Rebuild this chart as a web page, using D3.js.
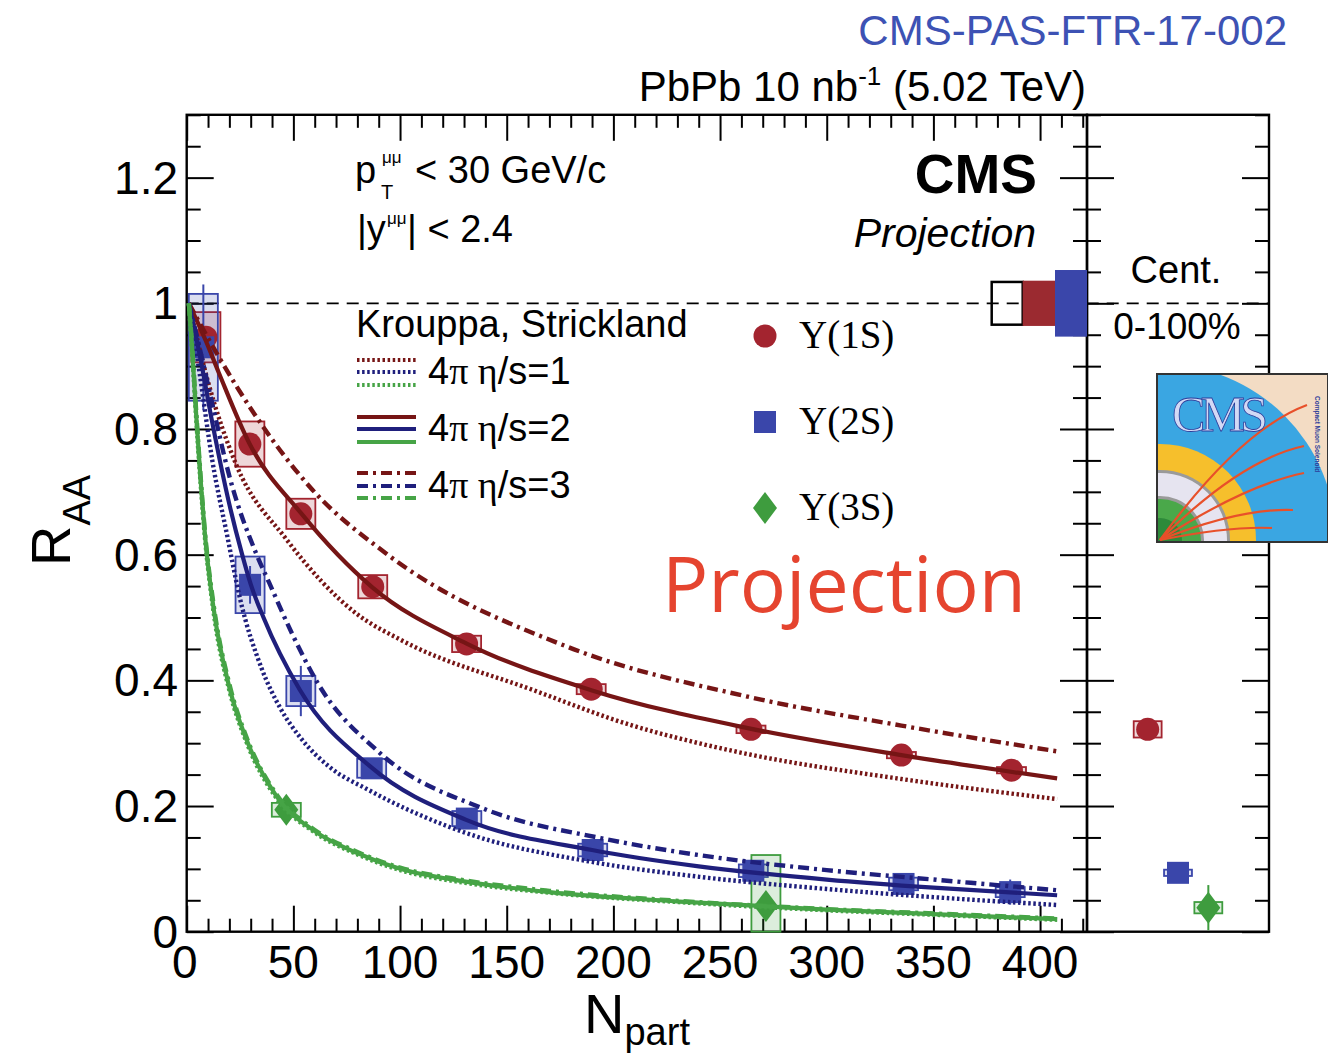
<!DOCTYPE html>
<html><head><meta charset="utf-8">
<script src="https://cdn.jsdelivr.net/npm/d3@7"></script>
<style>body{margin:0;background:#fff}svg{display:block}</style>
</head><body><svg id="c" width="1328" height="1053"></svg>
<script>
// ---------------- DATA ----------------
const npartMajorTicks = [0,50,100,150,200,250,300,350,400];
const npartTickLabels = ["0","50","100","150","200","250","300","350","400"];
const raaMajorTicks = [0,0.2,0.4,0.6,0.8,1,1.2];
const raaTickLabels = ["0","0.2","0.4","0.6","0.8","1","1.2"];

// Upsilon(1S) centrality-dependent points
const ups1S_npart = [9,29.6,53.5,87.2,131.2,189.6,264.5,335,386.6];
const ups1S_raa   = [0.946,0.776,0.665,0.549,0.458,0.386,0.322,0.281,0.257];
const ups1S_stat  = [0.01,0.01,0.008,0.006,0.005,0.004,0.004,0.004,0.004];
const ups1S_syst  = [0.04,0.036,0.024,0.0185,0.013,0.008,0.006,0.005,0.005];
// Upsilon(2S)
const ups2S_npart = [7.8,29.7,53.5,86.7,131.3,190.3,265.6,336,386];
const ups2S_raa   = [0.93,0.552,0.383,0.26,0.18,0.13,0.097,0.076,0.063];
const ups2S_stat  = [0.1,0.03,0.04,0.01,0.008,0.008,0.01,0.015,0.02];
const ups2S_syst  = [0.085,0.045,0.024,0.015,0.012,0.01,0.01,0.01,0.008];
// Upsilon(3S)
const ups3S_npart = [46.7,271.5];
const ups3S_raa   = [0.194,0.041];
const ups3S_stat  = [0.012,0.02];
const ups3S_syst  = [0.011,0.081];

// Integrated (0-100%) points, right panel
const intStates = ["1S","2S","3S"];
const intPos    = [2,3,4];
const intRaa    = [0.322,0.0937,0.0382];
const intStat   = [0.005,0.006,0.036];
const intSyst   = [0.013,0.005,0.009];

// Global uncertainties at RAA = 1
const globalLabels = ["lumi","1S","2S"];
const globalUnc    = [0.034,0.036,0.053];

// Krouppa-Strickland model curves [Npart, RAA]
const th1S_eta1 = [[1,1],[10,0.875],[23,0.745],[46.6,0.625],[80,0.505],[100,0.465],[162,0.385],[209,0.328],[240,0.3],[264,0.282],[335,0.243],[408,0.211]];
const th1S_eta2 = [[1,1],[9,0.94],[15,0.89],[29.4,0.777],[53.6,0.666],[87,0.548],[131,0.459],[190,0.384],[263,0.324],[335,0.281],[408,0.244]];
const th1S_eta3 = [[1,1],[15,0.915],[32.5,0.82],[59,0.703],[93,0.603],[178,0.454],[263,0.374],[335,0.328],[408,0.287]];
const th2S_eta1 = [[1,1],[6,0.89],[12,0.75],[19,0.63],[25,0.53],[35,0.42],[44,0.355],[53,0.31],[67,0.262],[85,0.226],[131,0.157],[190,0.111],[240,0.0875],[300,0.068],[350,0.055],[408,0.0425]];
const th2S_eta2 = [[1,1],[6,0.92],[12,0.81],[20,0.68],[26,0.6],[30,0.553],[36,0.5],[53,0.385],[86,0.263],[131,0.178],[190,0.13],[240,0.104],[300,0.083],[350,0.07],[408,0.058]];
const th2S_eta3 = [[1,1],[6,0.93],[12,0.84],[20,0.725],[32.8,0.6],[38.7,0.555],[50,0.47],[61,0.398],[90,0.286],[139,0.196],[194,0.149],[240,0.122],[300,0.098],[350,0.083],[408,0.066]];
const th3S_eta1 = [[1,1],[2.5,0.925],[4.5,0.814],[6.5,0.714],[8.6,0.625],[12.5,0.511],[20.3,0.38],[28.1,0.301],[42.2,0.212],[60,0.158],[80,0.123],[100,0.098],[130,0.078],[170,0.062],[231,0.047],[300,0.034],[350,0.027],[408,0.019]];
const th3S_eta2 = [[1,1],[2.5,0.93],[4.5,0.82],[6.5,0.72],[8.6,0.63],[12.5,0.517],[20.3,0.385],[28.1,0.305],[42.2,0.215],[60,0.16],[80,0.125],[100,0.1],[130,0.08],[170,0.063],[231,0.048],[300,0.035],[350,0.028],[408,0.02]];
const th3S_eta3 = [[1,1],[2.5,0.935],[4.5,0.826],[6.5,0.726],[8.6,0.635],[12.5,0.523],[20.3,0.39],[28.1,0.309],[42.2,0.218],[60,0.162],[80,0.127],[100,0.102],[130,0.082],[170,0.065],[231,0.049],[300,0.036],[350,0.029],[408,0.021]];

const legendStates = ["\u03A5(1S)","\u03A5(2S)","\u03A5(3S)"];
const legendEta = ["1","2","3"];

// ---------------- STYLE / LAYOUT ----------------
const svg = d3.select("#c");
const L=186.7, R=1087, T=114.8, B=931.7, R2=1269;
const x = d3.scaleLinear().domain([0,422]).range([L,R]);
const y = d3.scaleLinear().domain([0,1.3]).range([B,T]);
const xc = d3.scaleLinear().domain([0,6]).range([R,R2]);

const lineCol = {s1:"#761515", s2:"#1f1f7c", s3:"#46a446"};
const mkCol = {s1:"#a3242f", s2:"#3a46aa", s3:"#3e9c3e"};
const dashFor = {1:"2.5,2.6", 2:null, 3:"11,5,3,5"};
const SANS = "'Liberation Sans', Arial, Helvetica, sans-serif";
const SERIF = "'Liberation Serif', 'Times New Roman', serif";

svg.append("rect").attr("width",1328).attr("height",1053).attr("fill","#fff");

// ---- dashed line at RAA=1
svg.append("line").attr("x1",L).attr("x2",R2).attr("y1",y(1)).attr("y2",y(1))
  .attr("stroke","#000").attr("stroke-width",1.8).attr("stroke-dasharray","12,8");

// ---- axes ticks
function clean(g){ g.select(".domain").remove(); g.selectAll("line").attr("stroke","#000").attr("stroke-width",2); }
const minorX = d3.range(0,421,10).filter(v=>v%50!==0);
const minorY = d3.range(0,27).filter(i=>i%4!==0).map(i=>i*0.05);
svg.append("g").attr("transform",`translate(0,${B})`).call(d3.axisBottom(x).tickValues(npartMajorTicks).tickSizeInner(-26).tickSizeOuter(0).tickFormat("")).call(clean);
svg.append("g").attr("transform",`translate(0,${B})`).call(d3.axisBottom(x).tickValues(minorX).tickSizeInner(-13).tickSizeOuter(0).tickFormat("")).call(clean);
svg.append("g").attr("transform",`translate(0,${T})`).call(d3.axisTop(x).tickValues(npartMajorTicks).tickSizeInner(-26).tickSizeOuter(0).tickFormat("")).call(clean);
svg.append("g").attr("transform",`translate(0,${T})`).call(d3.axisTop(x).tickValues(minorX).tickSizeInner(-13).tickSizeOuter(0).tickFormat("")).call(clean);
svg.append("g").attr("transform",`translate(${L},0)`).call(d3.axisLeft(y).tickValues(raaMajorTicks).tickSizeInner(-27).tickSizeOuter(0).tickFormat("")).call(clean);
svg.append("g").attr("transform",`translate(${L},0)`).call(d3.axisLeft(y).tickValues(minorY).tickSizeInner(-14).tickSizeOuter(0).tickFormat("")).call(clean);
svg.append("g").attr("transform",`translate(${R},0)`).call(d3.axisRight(y).tickValues(raaMajorTicks).tickSizeInner(-27).tickSizeOuter(0).tickFormat("")).call(clean);
svg.append("g").attr("transform",`translate(${R},0)`).call(d3.axisRight(y).tickValues(minorY).tickSizeInner(-14).tickSizeOuter(0).tickFormat("")).call(clean);
svg.append("g").attr("transform",`translate(${R},0)`).call(d3.axisRight(y).tickValues(raaMajorTicks).tickSizeInner(27).tickSizeOuter(0).tickFormat("")).call(clean);
svg.append("g").attr("transform",`translate(${R},0)`).call(d3.axisRight(y).tickValues(minorY).tickSizeInner(14).tickSizeOuter(0).tickFormat("")).call(clean);
svg.append("g").attr("transform",`translate(${R2},0)`).call(d3.axisRight(y).tickValues(raaMajorTicks).tickSizeInner(-27).tickSizeOuter(0).tickFormat("")).call(clean);
svg.append("g").attr("transform",`translate(${R2},0)`).call(d3.axisRight(y).tickValues(minorY).tickSizeInner(-14).tickSizeOuter(0).tickFormat("")).call(clean);

svg.append("rect").attr("x",L).attr("y",T).attr("width",R-L).attr("height",B-T).attr("fill","none").attr("stroke","#000").attr("stroke-width",2.4);
svg.append("rect").attr("x",R).attr("y",T).attr("width",R2-R).attr("height",B-T).attr("fill","none").attr("stroke","#000").attr("stroke-width",2.4);

// tick labels
svg.append("g").selectAll("text").data(npartMajorTicks).join("text")
  .attr("x",(d,i)=> x(d) - (i===0?2:0)).attr("y",978).attr("text-anchor","middle")
  .attr("font-family",SANS).attr("font-size",46).text((d,i)=>npartTickLabels[i]);
svg.append("g").selectAll("text").data(raaMajorTicks).join("text")
  .attr("x",178).attr("y",d=>y(d)+16).attr("text-anchor","end")
  .attr("font-family",SANS).attr("font-size",46).text((d,i)=>raaTickLabels[i]);

// axis titles
const xt = svg.append("text").attr("x",584).attr("y",1033).attr("font-family",SANS).attr("font-size",56);
xt.append("tspan").text("N");
xt.append("tspan").attr("font-size",38).attr("dy",12).text("part");
const yt = svg.append("text").attr("transform","translate(70,566) rotate(-90)").attr("font-family",SANS).attr("font-size",56);
yt.append("tspan").text("R");
yt.append("tspan").attr("font-size",38).attr("dy",20).text("AA");

// ---- global uncertainty boxes at 1
const gX = [991.7,1022.7,1055,1087];
const gFill = ["none","#9b2a30","#3a46aa"];
const gStroke = ["#000","#9b2a30","#3a46aa"];
globalUnc.forEach((u,i)=>{
  svg.append("rect").attr("x",gX[i]).attr("width",gX[i+1]-gX[i])
    .attr("y",y(1+u)).attr("height",y(1-u)-y(1+u))
    .attr("fill",gFill[i]).attr("stroke",gStroke[i]).attr("stroke-width",i===0?2.5:0);
});

// ---- systematic boxes
function boxes(xs, ys, ss, col, xscale, halfw){
  const g = svg.append("g");
  xs.forEach((n,i)=>{
    const top = y(ys[i]+ss[i]), bot = y(Math.max(ys[i]-ss[i],0));
    g.append("rect").attr("x",xscale(n-halfw)).attr("width",xscale(n+halfw)-xscale(n-halfw))
      .attr("y",top).attr("height",bot-top)
      .attr("fill",col).attr("fill-opacity",0.18).attr("stroke",col).attr("stroke-width",1.8);
  });
}
boxes(ups1S_npart, ups1S_raa, ups1S_syst, mkCol.s1, x, 6.8);
boxes(ups2S_npart, ups2S_raa, ups2S_syst, mkCol.s2, x, 6.8);
boxes(ups3S_npart, ups3S_raa, ups3S_syst, mkCol.s3, x, 6.8);
[mkCol.s1,mkCol.s2,mkCol.s3].forEach((c,i)=>boxes([intPos[i]],[intRaa[i]],[intSyst[i]],c,xc,0.46));

// ---- markers
function errbars(xs, ys, es, col, xscale){
  const g = svg.append("g");
  xs.forEach((n,i)=>{
    g.append("line").attr("x1",xscale(n)).attr("x2",xscale(n)).attr("y1",y(ys[i]+es[i])).attr("y2",y(Math.max(ys[i]-es[i],0)))
      .attr("stroke",col).attr("stroke-width",2);
  });
}
function marker(g, kind, cx, cy, col){
  if(kind===0) g.append("circle").attr("cx",cx).attr("cy",cy).attr("r",11.5).attr("fill",col);
  else if(kind===1) g.append("rect").attr("x",cx-11).attr("y",cy-11).attr("width",22).attr("height",22).attr("fill",col);
  else g.append("path").attr("d",`M${cx},${cy-16}L${cx+12},${cy}L${cx},${cy+16}L${cx-12},${cy}Z`).attr("fill",col);
}
errbars(ups1S_npart, ups1S_raa, ups1S_stat, mkCol.s1, x);
errbars(ups2S_npart, ups2S_raa, ups2S_stat, mkCol.s2, x);
errbars(ups3S_npart, ups3S_raa, ups3S_stat, mkCol.s3, x);
[mkCol.s1,mkCol.s2,mkCol.s3].forEach((c,i)=>errbars([intPos[i]],[intRaa[i]],[intStat[i]],c,xc));
const mg = svg.append("g");
ups1S_npart.forEach((n,i)=>marker(mg,0,x(n),y(ups1S_raa[i]),mkCol.s1));
ups2S_npart.forEach((n,i)=>marker(mg,1,x(n),y(ups2S_raa[i]),mkCol.s2));
ups3S_npart.forEach((n,i)=>marker(mg,2,x(n),y(ups3S_raa[i]),mkCol.s3));
intPos.forEach((p,i)=>marker(mg,i,xc(p),y(intRaa[i]),[mkCol.s1,mkCol.s2,mkCol.s3][i]));

// ---- model curves
const line = d3.line().x(d=>x(d[0])).y(d=>y(d[1])).curve(d3.curveMonotoneX);
const curves = [
  [th1S_eta1,"s1",1],[th1S_eta3,"s1",3],[th1S_eta2,"s1",2],
  [th2S_eta1,"s2",1],[th2S_eta3,"s2",3],[th2S_eta2,"s2",2],
  [th3S_eta1,"s3",1],[th3S_eta3,"s3",3],[th3S_eta2,"s3",2]
];
curves.forEach(([d,s,e])=>{
  svg.append("path").attr("d",line(d)).attr("fill","none").attr("stroke",lineCol[s])
    .attr("stroke-width",e===2?4.2:4.4).attr("stroke-dasharray",dashFor[e]);
});

// ---- texts
svg.append("text").attr("x",1287).attr("y",45).attr("text-anchor","end").attr("font-family",SANS)
  .attr("font-size",42).attr("fill","#3d52b4").text("CMS-PAS-FTR-17-002");
const tt = svg.append("text").attr("x",1086).attr("y",101).attr("text-anchor","end").attr("font-family",SANS).attr("font-size",42);
tt.append("tspan").text("PbPb 10 nb");
tt.append("tspan").attr("font-size",26).attr("dy",-16).text("-1");
tt.append("tspan").attr("dy",16).text(" (5.02 TeV)");

svg.append("text").attr("x",1037).attr("y",193).attr("text-anchor","end").attr("font-family",SANS).attr("font-weight","bold").attr("font-size",55).text("CMS");
svg.append("text").attr("x",1036).attr("y",247).attr("text-anchor","end").attr("font-family",SANS).attr("font-style","italic").attr("font-size",41).text("Projection");

// kinematic cuts
function txt(xp,yp,s,size,fam){ return svg.append("text").attr("x",xp).attr("y",yp).attr("font-family",fam||SANS).attr("font-size",size).text(s); }
txt(355,183,"p",38); txt(382,163,"\u03BC\u03BC",17); txt(381,199,"T",20); txt(415,183,"< 30 GeV/c",38);
txt(357,242,"|y",38); txt(387,224,"\u03BC\u03BC",17); txt(407,242,"| < 2.4",38);

// model legend
txt(356,337,"Krouppa, Strickland",38);
const legRowsY = [[360,372,385],[417,429,442],[473,486,498]];
legRowsY.forEach((row,ri)=>{
  const e = ri+1;
  ["s1","s2","s3"].forEach((s,k)=>{
    svg.append("line").attr("x1",357).attr("x2",416).attr("y1",row[k]).attr("y2",row[k])
      .attr("stroke",lineCol[s]).attr("stroke-width",4).attr("stroke-dasharray",dashFor[e]);
  });
  const t = svg.append("text").attr("x",428).attr("y",row[1]+12).attr("font-family",SANS).attr("font-size",38);
  t.append("tspan").text("4");
  t.append("tspan").attr("font-family",SERIF).text("\u03C0 \u03B7");
  t.append("tspan").text("/s=" + legendEta[ri]);
});

// state legend
const legMY = [336,422,508];
legendStates.forEach((s,i)=>{
  marker(svg,i,765,legMY[i],[mkCol.s1,mkCol.s2,mkCol.s3][i]);
  svg.append("text").attr("x",799).attr("y",legMY[i]+12).attr("font-family",SERIF).attr("font-size",39).text(s);
});

// Big projection
svg.append("text").attr("x",662).attr("y",612).attr("font-family","'Open Sans', 'Noto Sans', sans-serif")
  .attr("font-size",77).attr("fill","#e5442f").text("Projection");

// right panel texts
svg.append("text").attr("x",1176).attr("y",283).attr("text-anchor","middle").attr("font-family",SANS).attr("font-size",38).text("Cent.");
svg.append("text").attr("x",1177).attr("y",339).attr("text-anchor","middle").attr("font-family",SANS).attr("font-size",37).text("0-100%");

// ---- CMS logo
(function(){
  const lx=1157, ly=374, lw=171, lh=168;
  const g = svg.append("g");
  g.append("clipPath").attr("id","lc").append("rect").attr("x",lx).attr("y",ly).attr("width",lw).attr("height",lh);
  const c = g.append("g").attr("clip-path","url(#lc)");
  const ox=lx+3, oy=ly+lh-2;
  c.append("rect").attr("x",lx).attr("y",ly).attr("width",lw).attr("height",lh).attr("fill","#f3dcc4");
  c.append("circle").attr("cx",ox).attr("cy",oy).attr("r",176).attr("fill","#3aa6e2");
  c.append("circle").attr("cx",ox).attr("cy",oy).attr("r",96).attr("fill","#f6bf2c");
  c.append("circle").attr("cx",ox).attr("cy",oy).attr("r",70).attr("fill","#9a9a9a");
  c.append("circle").attr("cx",ox).attr("cy",oy).attr("r",67).attr("fill","#e6e4f0");
  c.append("circle").attr("cx",ox).attr("cy",oy).attr("r",44).attr("fill","#9a9a9a");
  c.append("circle").attr("cx",ox).attr("cy",oy).attr("r",41).attr("fill","#4aa84a");
  c.append("circle").attr("cx",ox).attr("cy",oy).attr("r",22).attr("fill","#2e8a3a");
  const tracks = [[1307,405,1240,430],[1304,446,1240,460],[1304,473,1245,485],[1293,510,1240,508],[1272,528,1230,526]];
  tracks.forEach(t=>{
    c.append("path").attr("d",`M${ox},${oy} Q${t[2]},${t[3]} ${t[0]},${t[1]}`).attr("fill","none").attr("stroke","#e8502a").attr("stroke-width",2.2);
  });
  c.append("text").attr("x",1172).attr("y",431).attr("font-family",SERIF).attr("font-size",50)
    .attr("fill","#d2d9f5").attr("stroke","#2d3c9a").attr("stroke-width",0.8).attr("textLength",96).text("CMS");
  c.append("text").attr("transform","translate(1315,396) rotate(90)").attr("font-family",SANS).attr("font-size",6.5)
    .attr("fill","#2d3c9a").attr("font-weight","bold").text("Compact Muon Solenoid");
  g.append("rect").attr("x",lx).attr("y",ly).attr("width",lw).attr("height",lh).attr("fill","none").attr("stroke","#333").attr("stroke-width",2);
})();
</script></body></html>
